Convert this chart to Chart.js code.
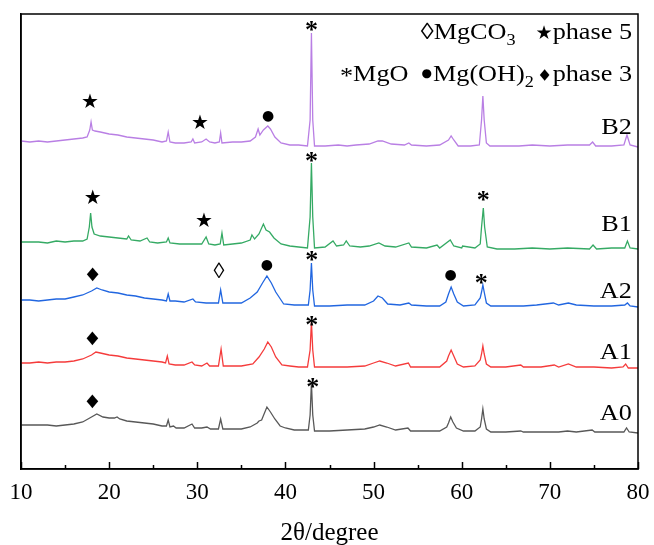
<!DOCTYPE html>
<html>
<head>
<meta charset="utf-8">
<script src="https://cdn.jsdelivr.net/npm/chart.js@4.4.0/dist/chart.umd.min.js"></script>
<style>
  html, body { margin: 0; padding: 0; background: #fff; overflow: hidden; }
  #wrap { width: 654px; height: 545px; }
</style>
</head>
<body>
<div id="wrap"><canvas id="xrd" width="654" height="545"></canvas></div>
<script>
// XRD patterns: [2theta, intensity (a.u., relative to the start of each pattern)]
const A0 = [[10,0],[11,0],[12,0],[13,0],[14,-1],[15,0],[16,1],[17,3],[17.8,7],[18.6,11],[19.3,8],[20,7],[20.6,7],[20.9,8],[21.2,6],
  [22,4],[23,3],[24,2],[25,1],[26,-1],[26.5,-1],[26.7,5],[26.9,-2],[27.3,-1],[27.6,-3],[28.5,-3],[29.4,1],[29.7,-3],[30.5,-3],
  [31.1,-2],[31.5,-4],[32.4,-4],[32.65,6],[32.9,-4],[34,-4],[35,-4],[36,-2],[36.8,2],[37,4],[37.3,5],[37.9,18],[38.3,13],[38.8,6],
  [39.4,-1],[40,-3],[41,-5],[42,-5],[42.6,-5],[42.8,10],[42.95,42],[43.1,10],[43.3,-6],[45,-6],[47,-5],[49,-4],[50,-2],[50.7,0],
  [51.5,-2],[52.5,-5],[53.9,-3],[54.2,-6],[56,-6],[57.5,-6],[58.3,-2],[58.5,2],[58.75,8],[59,3],[59.4,-3],[60.2,-6],[61.5,-6],
  [62.1,-2],[62.25,6],[62.4,16],[62.55,6],[62.8,-4],[63.3,-7],[65,-7],[66.7,-6],[67,-7],[69,-7],[71,-7],[72,-6],[73,-7],[74.8,-5],
  [75.1,-7],[77,-7],[78.4,-7],[78.7,-3],[79,-7],[80,-8]];

const A1 = [[10,0],[11,0],[12,1],[13,0],[14,1],[15,1],[16,2],[17,4],[18,8],[18.5,11],[19,10],[20,8],[21,7],[22,5],[23,4],[24,3],
  [25,2],[26,1],[26.4,0],[26.6,7],[26.8,-1],[27.5,-2],[28.5,-2],[29.4,1],[29.7,-2],[30.5,-3],[31.1,0],[31.4,-3],[32.4,-3],[32.7,14],
  [32.95,-3],[34,-3],[35,-3],[36.3,-1],[37,6],[37.6,14],[38,21],[38.4,16],[38.9,6],[39.6,-2],[40.5,-3],[41.5,-4],[42.5,-4],[42.8,13],
  [42.95,41],[43.1,13],[43.3,-4],[45,-4],[47,-4],[49,-3],[50,0],[50.7,2],[51.5,0],[52.5,-3],[53.95,0],[54.2,-4],[56,-4],[57.5,-4],
  [58.3,2],[58.5,7],[58.8,13],[59.1,7],[59.5,-1],[60.2,-4],[61.5,-3],[62.1,3],[62.25,9],[62.4,17],[62.55,9],[62.8,-1],[63.3,-4],
  [65,-4],[66.7,-2],[67,-4],[69,-4],[70.5,-2],[71,-4],[72.1,-1],[73,-4],[75,-4],[77,-5],[78.3,-4],[78.6,-1],[78.9,-5],[80,-5]];

const A2 = [[10,0],[11,0],[12,-1],[13,0],[14,1],[15,1],[16,3],[17,5],[18,9],[18.6,12],[19.2,10],[20,8],[21,7],[22,5],[23,4],[24,2],
  [25,1],[26,0],[26.5,-1],[26.7,6],[26.9,-1],[27.5,-1],[28.5,-2],[29.5,1],[29.8,-2],[31,-3],[32.4,-3],[32.65,10],[32.9,-3],[34,-3],
  [35,-3],[36,2],[36.8,8],[37.4,17],[37.9,24],[38.4,17],[38.9,8],[39.8,-4],[41,-5],[42,-5],[42.6,-5],[42.8,10],[42.95,37],[43.1,10],
  [43.3,-6],[45,-6],[47,-5],[49,-5],[50,-1],[50.5,4],[51,2],[51.6,-4],[53,-5],[54,-3],[54.3,-5],[56,-6],[57.5,-6],[58.2,-2],[58.5,6],
  [58.8,13],[59.1,6],[59.5,-2],[60.2,-6],[61.5,-5],[62.1,2],[62.25,8],[62.4,15],[62.55,8],[62.8,-3],[63.3,-6],[65,-6],[67,-6],
  [68.5,-5],[70.4,-3],[71,-5],[72.1,-3],[73,-5],[75,-6],[77,-6],[78.5,-5],[78.8,-3],[79.1,-6],[80,-7]];

const B1 = [[10,0],[11,0],[12,0],[13,-1],[14,1],[15,0],[16,1],[17,1],[17.5,3],[17.75,15],[17.9,29],[18.05,15],[18.3,8],[19,6],[20,5],
  [21,4],[22,3],[22.2,6],[22.5,2],[23.5,1],[24.3,4],[24.6,0],[25.5,-1],[26.5,0],[26.7,4],[26.9,-1],[28,-2],[29.5,-2],[30.5,-2],
  [31,5],[31.3,-2],[32,-3],[32.6,-2],[32.8,9],[33,-3],[34,-2],[35,-1],[36,2],[36.2,7],[36.5,3],[37,8],[37.5,18],[37.8,12],[38.2,10],
  [38.7,4],[39.5,-2],[40.5,-4],[41.5,-5],[42.5,-6],[42.8,25],[42.95,79],[43.1,25],[43.3,-6],[44.5,-5],[45.4,1],[45.8,-4],[46.6,-3],
  [46.9,1],[47.3,-4],[48.5,-5],[49.5,-4],[50.6,-1],[51.3,-4],[52.5,-5],[54,-1],[54.3,-5],[56,-6],[57.2,-3],[57.5,-6],[58.7,2],
  [59.1,-4],[60,-6],[60.1,-4],[61.5,-6],[62.1,-2],[62.25,15],[62.45,34],[62.6,15],[62.9,-5],[64,-7],[66,-7],[68,-6],[70,-7],[72,-6],
  [74.5,-7],[74.9,-3],[75.3,-7],[77,-6],[78.5,-6],[78.8,1],[79.1,-6],[80,-7]];

const B2 = [[10,1],[11,0],[12,1],[13,0],[14,1],[15,2],[16,3],[17,4],[17.5,5],[17.8,12],[17.95,20],[18.1,12],[18.4,11],[19,10],[20,8],
  [21,7],[22,5],[23,4],[24,3],[25,2],[26,0],[26.5,1],[26.7,10],[26.9,0],[27.5,-1],[28.5,-1],[29.3,0],[29.5,3],[29.7,-1],[30.5,0],
  [31,3],[31.4,0],[32,-1],[32.5,0],[32.65,9],[32.8,-1],[34,0],[35,0],[36,1],[36.6,5],[36.9,13],[37.1,7],[37.5,12],[38,16],[38.3,13],
  [38.8,5],[39.5,-1],[40.5,-3],[41.5,-3],[42.5,-4],[42.8,22],[42.95,109],[43.1,22],[43.3,-4],[44.5,-4],[46,-3],[47,-4],[48,-3],
  [49.5,-2],[50.5,1],[51,1],[52,-2],[53.5,-3],[54,-1],[54.3,-3],[56,-4],[57.5,-3],[58.5,2],[58.8,6],[59.1,2],[59.6,-4],[61,-4],
  [62,-3],[62.25,22],[62.4,46],[62.55,22],[62.8,-1],[63.2,-4],[65,-4],[66.5,-4],[68,-3],[70,-4],[72,-3],[74.5,-3],[74.85,0],
  [75.2,-4],[77,-4],[78.4,-3],[78.75,7],[79.1,-3],[80,-5]];

const sampleNames = ['A0', 'A1', 'A2', 'B1', 'B2'];
const samplePatterns = [A0, A1, A2, B1, B2];
const stackOffsets = [44, 106, 169, 227, 327];
const sampleLabelY = [55, 116, 177, 244, 341.5];
const lineColors = ['#585858', '#f53b3b', '#2166e0', '#35aa64', '#b97fe4'];

const majorTicks = [10, 20, 30, 40, 50, 60, 70, 80];
const minorTicks = [15, 25, 35, 45, 55, 65, 75];

// phase markers above the peaks: symbol, 2theta, height
const phaseMarks = [
  ['★', 17.83, 366], ['★', 30.31, 345], ['●', 38.03, 353], ['*', 42.95, 444],
  ['★', 18.13, 270.7], ['★', 30.76, 247.3], ['*', 42.95, 313], ['*', 62.45, 274],
  ['◆', 18.13, 194.7], ['◊', 32.46, 196.7], ['●', 37.88, 204], ['*', 42.98, 214], ['●', 58.75, 193.3], ['*', 62.22, 190.7],
  ['◆', 18.09, 130.7], ['*', 42.98, 149],
  ['◆', 18.09, 67.3], ['*', 43.1, 86.3]
];

const SERIF = '"Liberation Serif", "Times New Roman", serif';
const TEXT_SX = 1.14;   // the figure's lettering is a little wider than Times
const markStyle = {
  '★': { font: '20px "DejaVu Sans"', sx: 1, dy: 0 },
  '●': { font: '14px "DejaVu Sans"', sx: 1, dy: 0 },
  '◆': { font: '18px "DejaVu Sans"', sx: 0.85, dy: 0 },
  '◊': { font: '22px ' + SERIF, sx: 1, dy: 0 },
  '*': { font: 'bold 26px ' + SERIF, sx: 1, dy: 6 }
};

function drawStretched(ctx, text, font, px, py, sx, align) {
  ctx.save();
  ctx.translate(px, py);
  ctx.scale(sx, 1);
  ctx.font = font;
  ctx.textAlign = align;
  ctx.fillText(text, 0, 0);
  ctx.restore();
}

// parts are laid out from the right edge, left to right, in stretched text
function drawRich(ctx, parts, right, baseline) {
  var total = 0, i, p;
  for (i = 0; i < parts.length; i++) {
    p = parts[i];
    ctx.font = p.font || ('23px ' + SERIF);
    p.w = ctx.measureText(p.t).width * (p.sx || TEXT_SX) + (p.gap || 0);
    total += p.w;
  }
  var xpos = right - total;
  ctx.textBaseline = 'alphabetic';
  for (i = 0; i < parts.length; i++) {
    p = parts[i];
    drawStretched(ctx, p.t, p.font || ('23px ' + SERIF), xpos + (p.gap || 0), baseline + (p.dy || 0), p.sx || TEXT_SX, 'left');
    xpos += p.w;
  }
}

const decorations = {
  id: 'decorations',
  afterDraw(chart) {
    const ctx = chart.ctx;
    const a = chart.chartArea;
    const x = chart.scales.x, y = chart.scales.y;
    ctx.save();

    // frame and inward ticks
    ctx.strokeStyle = '#000';
    ctx.lineWidth = 1.5;
    ctx.strokeRect(a.left, a.top, a.right - a.left, a.bottom - a.top);
    majorTicks.concat(minorTicks).forEach(function(t) {
      const px = Math.round(x.getPixelForValue(t)) + 0.5;
      const len = majorTicks.indexOf(t) >= 0 ? 7 : 4;
      ctx.beginPath();
      ctx.moveTo(px, a.bottom);
      ctx.lineTo(px, a.bottom - len);
      ctx.stroke();
    });

    ctx.fillStyle = '#000';

    // phase markers
    ctx.textBaseline = 'middle';
    phaseMarks.forEach(function(m) {
      const st = markStyle[m[0]];
      drawStretched(ctx, m[0], st.font, x.getPixelForValue(m[1]), y.getPixelForValue(m[2]) + st.dy, st.sx, 'center');
    });

    // sample names
    ctx.textBaseline = 'middle';
    sampleNames.forEach(function(name, i) {
      drawStretched(ctx, name, '23px ' + SERIF, x.getPixelForValue(79.3), y.getPixelForValue(sampleLabelY[i]), TEXT_SX, 'right');
    });

    // phase legend
    const sub = '16px ' + SERIF;
    drawRich(ctx, [
      { t: '◊MgCO' }, { t: '3', font: sub, dy: 6 },
      { t: '★', font: '19px "DejaVu Sans"', sx: 1, gap: 20 }, { t: 'phase 5' }
    ], a.right - 6, a.top + 25);
    drawRich(ctx, [
      { t: '*', dy: 2 }, { t: 'MgO' },
      { t: '●', font: '12px "DejaVu Sans"', sx: 1, gap: 13, dy: -4 }, { t: 'Mg(OH)', gap: 1 }, { t: '2', font: sub, dy: 6 },
      { t: '◆', font: '15px "DejaVu Sans"', sx: 0.85, gap: 6, dy: -2 }, { t: 'phase 3', gap: 3 }
    ], a.right - 6, a.top + 67);

    ctx.restore();
  }
};

const datasets = samplePatterns.map(function(pattern, i) {
  return {
    label: sampleNames[i],
    data: pattern.map(function(d) { return { x: d[0], y: stackOffsets[i] + d[1] }; }),
    borderColor: lineColors[i],
    backgroundColor: lineColors[i],
    borderWidth: 1.3,
    pointRadius: 0,
    tension: 0,
    fill: false
  };
});

new Chart(document.getElementById('xrd'), {
  type: 'line',
  data: { datasets: datasets },
  options: {
    responsive: false,
    animation: false,
    layout: { padding: { top: 14, right: 16, left: 0, bottom: 0 } },
    plugins: { legend: { display: false }, tooltip: { enabled: false } },
    scales: {
      x: {
        type: 'linear',
        min: 10,
        max: 80,
        afterBuildTicks: function(scale) {
          scale.ticks = majorTicks.map(function(v) { return { value: v }; });
        },
        afterFit: function(scale) {
          scale.height = 76;
          scale.paddingLeft = 12;
          scale.paddingRight = 12;
        },
        grid: { display: false, drawTicks: false },
        border: { display: true, color: '#000', width: 1.5 },
        ticks: {
          padding: 10,
          color: '#000',
          font: { family: SERIF, size: 23 }
        },
        title: {
          display: true,
          text: '2θ/degree',
          color: '#000',
          font: { family: SERIF, size: 25 },
          padding: { top: 0, bottom: -3 }
        }
      },
      y: {
        min: 0,
        max: 455,
        afterFit: function(scale) { scale.width = 21; },
        grid: { display: false, drawTicks: false },
        border: { display: true, color: '#000', width: 1.5 },
        ticks: { display: false }
      }
    }
  },
  plugins: [decorations]
});
</script>
</body>
</html>
